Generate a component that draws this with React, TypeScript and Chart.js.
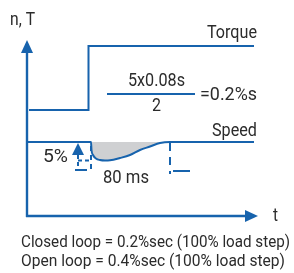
import React, { useEffect, useRef } from "react";
import { Chart, registerables } from "chart.js";

Chart.register(...registerables);

// time (ms, load step at 0) and level values
const torqueX = [-61, -1.5, -1.5, 164];
const torqueY = [106, 106, 170, 170];
const speedX = [-62, 1, 1.5, 3, 6, 10, 15, 20, 30, 40, 50, 60, 70, 80, 164];
const speedY = [74, 74, 66, 61, 57.5, 56, 55.5, 55.7, 58, 61, 66, 69.5, 73, 74, 74];
const speedLevel = 74;
const dipBottom = 55.5;
const dipStart = 1;
const dipEnd = 80;

const axisLabels = ["n, T", "t"];
const seriesLabels = ["Torque", "Speed"];
const formulaTop = "5x0.08s";
const formulaBottom = "2";
const formulaResult = "=0.2%s";
const dipLabel = "5%";
const durationLabel = "80 ms";
const notes = [
  "Closed loop = 0.2%sec (100% load step)",
  "Open loop = 0.4%sec (100% load step)",
];

const BLUE = "#1763ad";
const TEXT = "#2b2b2b";
const FILL = "#cfd0d2";
const FONT = "Roboto";

function fitText(
  ctx: CanvasRenderingContext2D,
  text: string,
  left: number,
  right: number,
  baseline: number,
  size: number
) {
  ctx.save();
  ctx.font = `${size}px ${FONT}`;
  ctx.fillStyle = TEXT;
  ctx.textAlign = "left";
  ctx.textBaseline = "alphabetic";
  const w = ctx.measureText(text).width;
  const s = (right - left) / w;
  ctx.translate(left, baseline);
  ctx.scale(s, 1);
  ctx.fillText(text, 0, 0);
  ctx.restore();
}

function line(ctx: CanvasRenderingContext2D, x1: number, y1: number, x2: number, y2: number, dash: number[] = []) {
  ctx.save();
  ctx.setLineDash(dash);
  ctx.beginPath();
  ctx.moveTo(x1, y1);
  ctx.lineTo(x2, y2);
  ctx.stroke();
  ctx.restore();
}

function tri(ctx: CanvasRenderingContext2D, pts: number[][]) {
  ctx.beginPath();
  ctx.moveTo(pts[0][0], pts[0][1]);
  ctx.lineTo(pts[1][0], pts[1][1]);
  ctx.lineTo(pts[2][0], pts[2][1]);
  ctx.closePath();
  ctx.fill();
}

const annotations = {
  id: "annotations",
  afterDraw(chart: any) {
    const ctx: CanvasRenderingContext2D = chart.ctx;
    const { left, right, top, bottom } = chart.chartArea;
    const xs = chart.scales.x;
    const ys = chart.scales.y;
    ctx.save();
    ctx.strokeStyle = BLUE;
    ctx.fillStyle = BLUE;
    ctx.lineWidth = 2.4;
    // axes
    line(ctx, left, bottom + 1, left, top + 12);
    line(ctx, left - 1, bottom, right - 12, bottom);
    tri(ctx, [[left, top], [left - 6, top + 13], [left + 6, top + 13]]);
    tri(ctx, [[right, bottom], [right - 13, bottom - 6], [right - 13, bottom + 6]]);

    ctx.lineWidth = 2;
    const pLevel = ys.getPixelForValue(speedLevel);
    const pBottom = ys.getPixelForValue(dipBottom);
    const x0 = xs.getPixelForValue(dipStart);
    const x1 = xs.getPixelForValue(dipEnd);
    // 80 ms dimension
    line(ctx, x0, pLevel + 4, x0, pLevel + 31, [5, 4]);
    line(ctx, x1, pLevel + 1, x1, pLevel + 32, [8, 6]);
    line(ctx, x0 - 16, pLevel + 28, x0 - 4, pLevel + 28);
    line(ctx, x1 + 3, pLevel + 29, x1 + 20, pLevel + 29);
    // 5% dimension
    const ax = x0 - 13;
    line(ctx, ax, pBottom, x0, pBottom, [4, 3]);
    line(ctx, ax, pLevel + 12, ax, pLevel + 24, [5, 3]);
    tri(ctx, [[ax, pLevel + 1], [ax - 6, pLevel + 13], [ax + 6, pLevel + 13]]);

    // formula fraction line
    line(ctx, 107, 94, 195, 94);
    ctx.restore();

    fitText(ctx, axisLabels[0], 10, 35, 25, 18);
    fitText(ctx, axisLabels[1], 273, 278, 221, 19);
    fitText(ctx, seriesLabels[0], 207, 257, 38, 19);
    fitText(ctx, seriesLabels[1], 212, 257, 136, 19);
    fitText(ctx, formulaTop, 128, 185, 86, 18);
    fitText(ctx, formulaBottom, 152, 161, 111, 18);
    fitText(ctx, formulaResult, 200, 257, 100, 18);
    fitText(ctx, dipLabel, 43, 68, 162, 18);
    fitText(ctx, durationLabel, 103, 149, 183, 18);
    fitText(ctx, notes[0], 21, 290, 247, 16);
    fitText(ctx, notes[1], 21, 285, 266, 16);
  },
};

export default function App() {
  const ref = useRef<HTMLCanvasElement | null>(null);
  useEffect(() => {
    document.body.style.margin = "0";
    const canvas = ref.current;
    if (!canvas) return;
    const chart = new Chart(canvas, {
      type: "line",
      data: {
        datasets: [
          {
            label: seriesLabels[0],
            data: torqueX.map((x, i) => ({ x, y: torqueY[i] })),
            borderColor: BLUE,
            borderWidth: 2,
            pointRadius: 0,
            tension: 0,
            fill: false,
            borderJoinStyle: "miter",
          },
          {
            label: seriesLabels[1],
            data: speedX.map((x, i) => ({ x, y: speedY[i] })),
            borderColor: BLUE,
            borderWidth: 2,
            pointRadius: 0,
            cubicInterpolationMode: "monotone",
            fill: { value: speedLevel },
            backgroundColor: FILL,
          },
        ],
      },
      options: {
        responsive: false,
        animation: false,
        devicePixelRatio: 1,
        layout: { padding: { left: 27, right: 36, top: 40, bottom: 57 } },
        scales: {
          x: { type: "linear", min: -63, max: 168, display: false },
          y: { type: "linear", min: 0, max: 176, display: false },
        },
        plugins: { legend: { display: false }, tooltip: { enabled: false }, title: { display: false } },
      },
      plugins: [annotations],
    } as any);
    return () => chart.destroy();
  }, []);
  return (
    <div style={{ width: 294, height: 273 }}>
      <canvas ref={ref} width={294} height={273} style={{ display: "block" }} />
    </div>
  );
}
